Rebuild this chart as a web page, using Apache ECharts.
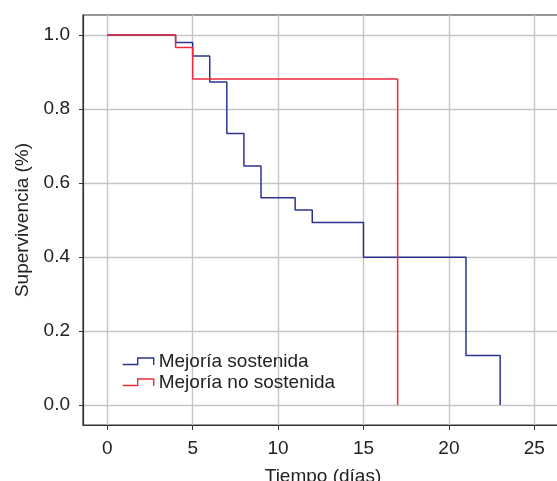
<!DOCTYPE html>
<html>
<head>
<meta charset="utf-8">
<script src="https://cdn.jsdelivr.net/npm/echarts@6/dist/echarts.min.js"></script>
<style>
html,body{margin:0;padding:0;background:#fff;}
#chart{width:557px;height:481px;}
</style>
</head>
<body>
<div id="chart"></div>
<script>
// Data
const seriesNames = ['Mejoría sostenida', 'Mejoría no sostenida'];
const timesSost = [0, 4, 5, 6, 7, 8, 9, 11, 12, 15, 21, 23];
const survSost = [1.0, 0.98, 0.943, 0.873, 0.734, 0.646, 0.56, 0.527, 0.493, 0.399, 0.134, 0.0];
const timesNoSost = [0, 4, 5, 17];
const survNoSost = [1.0, 0.966, 0.881, 0.0];
const xTicks = [0, 5, 10, 15, 20, 25];
const yTicks = [0.0, 0.2, 0.4, 0.6, 0.8, 1.0];

const colors = ['#2b3494', '#ee2a3c'];
const FONT = "'Liberation Sans', Arial, Helvetica, sans-serif";
const FS = 19;
const textColor = '#222';
const gridColor = '#c6c6c6';

const chart = echarts.init(document.getElementById('chart'), null, {renderer: 'canvas'});
const iconPath = 'path://M0,6.5 L15,6.5 L15,0 L31,0 L31,7';

chart.setOption({
  animation: false,
  backgroundColor: '#fff',
  textStyle: {fontFamily: FONT},
  grid: {
    left: 83, top: 15, right: -6, bottom: 56,
    outerBoundsMode: 'none', containLabel: false,
    show: true, borderColor: '#333', borderWidth: 1.2, backgroundColor: 'transparent'
  },
  legend: {
    orient: 'vertical',
    left: 117, top: 347,
    itemWidth: 31, itemHeight: 7, itemGap: 2,
    selectedMode: false,
    textStyle: {fontFamily: FONT, fontSize: FS, color: textColor},
    data: seriesNames.map((n, i) => ({
      name: n, icon: iconPath,
      itemStyle: {color: 'transparent', borderColor: colors[i], borderWidth: 1.4}
    }))
  },
  xAxis: {
    type: 'value',
    min: -1.42, max: 26.68,
    name: 'Tiempo (días)',
    nameLocation: 'middle',
    nameGap: 42,
    nameTextStyle: {fontFamily: FONT, fontSize: FS, color: textColor},
    axisLine: {show: true, onZero: false, lineStyle: {color: '#333', width: 1.2}},
    axisTick: {show: true, customValues: xTicks, length: 5, lineStyle: {color: '#333', width: 1}},
    axisLabel: {customValues: xTicks, margin: 14, fontFamily: FONT, fontSize: FS, color: textColor,
      formatter: v => String(v)},
    splitLine: {show: true, lineStyle: {color: gridColor, width: 1.4}}
  },
  yAxis: {
    type: 'value',
    min: -0.054, max: 1.054,
    name: 'Supervivencia (%)',
    nameLocation: 'middle',
    nameGap: 50,
    nameRotate: 90,
    nameTextStyle: {fontFamily: FONT, fontSize: FS, color: textColor},
    axisLine: {show: true, onZero: false, lineStyle: {color: '#333', width: 1.2}},
    axisTick: {show: true, customValues: yTicks, length: 4, lineStyle: {color: '#333', width: 1}},
    axisLabel: {customValues: yTicks, margin: 13, fontFamily: FONT, fontSize: FS, color: textColor,
      formatter: v => v.toFixed(1)},
    splitLine: {show: true, lineStyle: {color: gridColor, width: 1.4}}
  },
  series: [
    {
      name: seriesNames[0], type: 'line', step: 'end', showSymbol: false, symbol: 'none',
      lineStyle: {color: colors[0], width: 1.5}, itemStyle: {color: colors[0]},
      data: timesSost.map((t, i) => [t, survSost[i]]), z: 3
    },
    {
      name: seriesNames[1], type: 'line', step: 'end', showSymbol: false, symbol: 'none',
      lineStyle: {color: colors[1], width: 1.5}, itemStyle: {color: colors[1]},
      data: timesNoSost.map((t, i) => [t, survNoSost[i]]), z: 4
    }
  ]
});
</script>
</body>
</html>
